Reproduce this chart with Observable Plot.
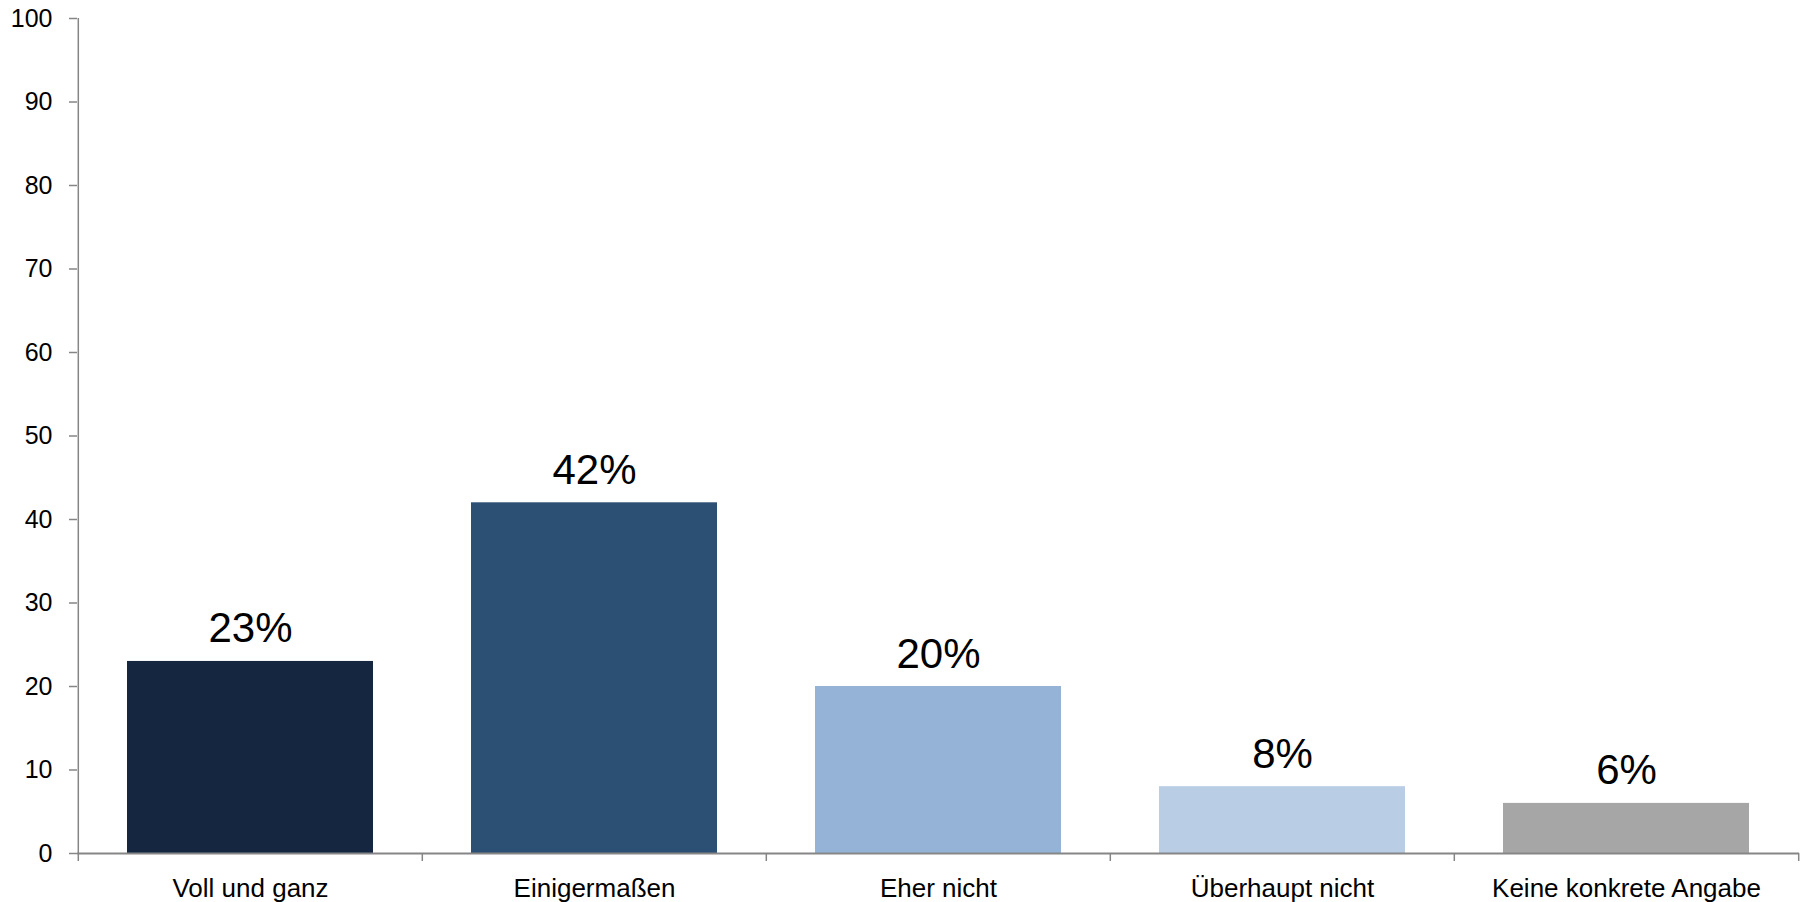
<!DOCTYPE html>
<html>
<head>
<meta charset="utf-8">
<script src="https://cdn.jsdelivr.net/npm/d3@7"></script>
<script src="https://cdn.jsdelivr.net/npm/@observablehq/plot@0.6"></script>
<style>
  html, body { margin: 0; padding: 0; background: #fff; }
  svg { display: block; }
</style>
</head>
<body>
<div id="chart"></div>
<script>
const categories = ["Voll und ganz", "Einigermaßen", "Eher nicht", "Überhaupt nicht", "Keine konkrete Angabe"];
const values = [23, 42, 20, 8, 6];
const colors = ["#142640", "#2C4F74", "#95B3D7", "#B9CDE5", "#A6A6A6"];
const yTicks = [0, 10, 20, 30, 40, 50, 60, 70, 80, 90, 100];

const data = categories.map((c, i) => ({category: c, value: values[i], color: colors[i]}));

const W = 1808, H = 902;
const mL = 77, mR = 9, mT = 18, mB = 49;
const step = (W - mL - mR) / categories.length;
const axisColor = "#868686";
const font = "'Liberation Sans', Arial, sans-serif";

const chart = Plot.plot({
  width: W,
  height: H,
  marginLeft: mL,
  marginRight: mR,
  marginTop: mT,
  marginBottom: mB,
  style: {fontFamily: font, background: "#fff", color: "#000"},
  x: {domain: categories, paddingInner: 0.286, paddingOuter: 0.143, label: null},
  y: {domain: [0, 100], label: null},
  marks: [
    Plot.barY(data, {x: "category", y: "value", fill: "color"}),
    Plot.axisY({ticks: yTicks, tickSize: 8, tickPadding: 17, stroke: axisColor, strokeWidth: 1.5, fill: "#000", fontSize: 25, label: null, strokeOpacity: 1}),
    Plot.axisX({tickSize: 0, tickPadding: 25, fontSize: 26, fill: "#000", label: null}),
    // y axis line
    Plot.ruleX([categories[0]], {x: d => d, dx: -step / 2, y1: 0, y2: 100, stroke: axisColor, strokeWidth: 1.5}),
    // baseline
    Plot.ruleY([0], {stroke: axisColor, strokeWidth: 2}),
    // category boundary ticks
    Plot.ruleX(categories, {x: d => d, dx: -step / 2, y1: 0, y2: 0, insetBottom: -8, stroke: axisColor, strokeWidth: 1.5}),
    Plot.ruleX([categories[categories.length - 1]], {x: d => d, dx: step / 2, y1: 0, y2: 0, insetBottom: -8, stroke: axisColor, strokeWidth: 1.5}),
    // value labels
    Plot.text(data, {x: "category", y: "value", text: d => d.value + "%", lineAnchor: "bottom", dy: -19, fontSize: 42, fill: "#000"})
  ]
});

document.getElementById("chart").appendChild(chart);
</script>
</body>
</html>
